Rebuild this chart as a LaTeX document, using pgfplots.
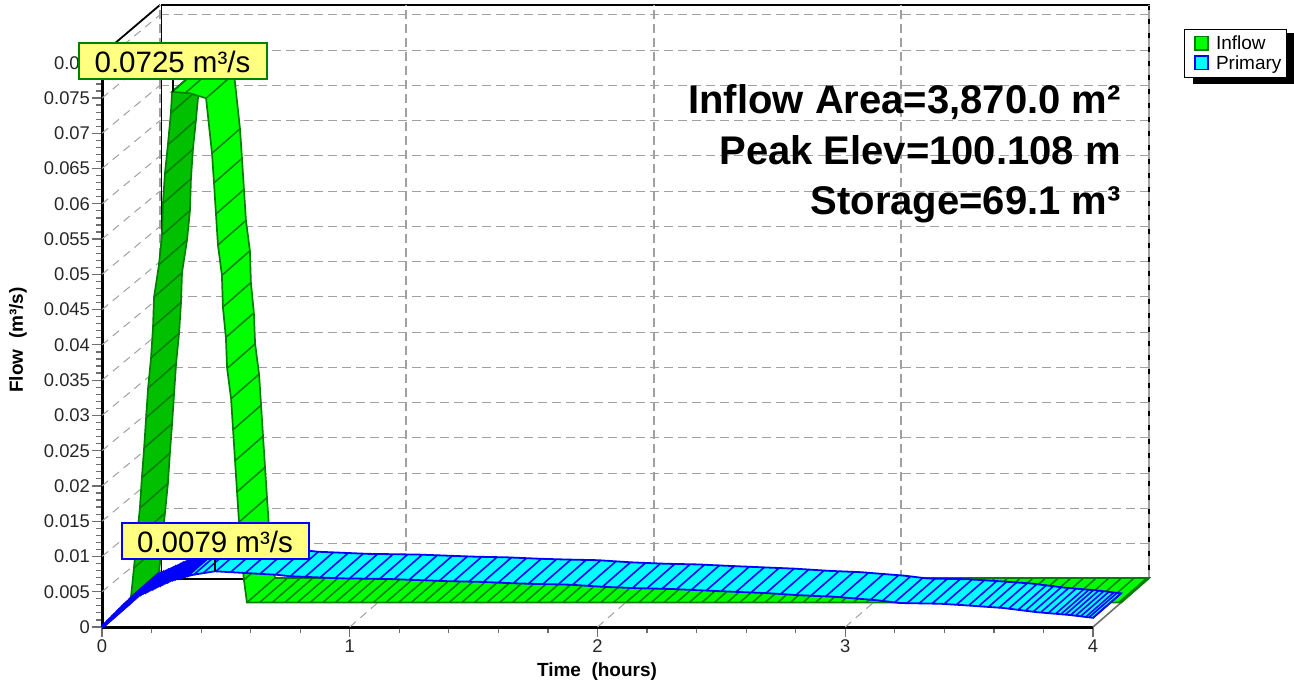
\documentclass[border=0pt]{standalone}
\usepackage{pgfplots}
\usepackage{pgfplotstable}
\usepackage{fontspec}
\setmainfont{Liberation Sans}
\pgfplotsset{compat=1.18}
\usepgfplotslibrary{fillbetween}
\definecolor{gridg}{RGB}{160,160,160}
\definecolor{tickg}{RGB}{110,110,110}
\definecolor{inl}{RGB}{0,255,0}
\definecolor{ind}{RGB}{0,192,0}
\definecolor{inedge}{RGB}{0,128,0}
\definecolor{pri}{RGB}{0,255,255}
\definecolor{priedge}{RGB}{0,0,255}
\definecolor{labelfill}{RGB}{255,255,128}
\newcommand{\fs}[1]{\fontsize{#1}{#1}\selectfont}

% Inflow: rising limb
\pgfplotstableread{
t q
0 0
.004 .0008
.016 .0049
.028 .0092
.040 .0134
.048 .0177
.057 .0219
.065 .0262
.073 .0304
.085 .0347
.093 .0391
.097 .0433
.117 .0479
.129 .0521
.133 .0566
.141 .0608
.153 .0649
.165 .0694
.170 .0724
}\inrise
% Inflow: crest and falling limb, then base
\pgfplotstableread{
t q
.170 .0724
.242 .0722
.307 .0715
.331 .0637
.339 .0595
.347 .0551
.355 .0507
.371 .0464
.375 .0419
.387 .0376
.392 .0332
.408 .0289
.416 .0245
.424 .0201
.432 .0157
.440 .0114
.448 .0072
.460 .0032
.472 0
4 0
}\infall
% Primary outline
\pgfplotstableread{
t q
0 0
.121 .0041
.222 .0057
.287 .0067
.367 .0074
.456 .0079
.706 .0074
.759 .0072
.961 .0069
1.162 .0068
1.393 .0065
1.526 .0064
1.659 .0062
1.756 .0061
1.889 .0060
2.022 .0057
2.159 .0055
2.293 .0054
2.414 .0052
2.547 .0050
2.684 .0048
2.817 .0045
2.951 .0043
3.128 .0038
3.221 .0034
3.382 .0033
3.475 .0031
3.637 .0027
3.774 .0021
3.907 .0017
4.000 .0013
}\primary
% Primary: early limb hatches
\pgfplotstableread{
t q
0 0
.01 .0003
.02 .0007
.03 .0010
.04 .0014
.05 .0017
.06 .0021
.07 .0024
.08 .0028
.09 .0031
.10 .0034
.11 .0038
.12 .0041
.13 .0042
.14 .0044
.15 .0045
.16 .0047
.17 .0048
.18 .0050
.19 .0052
.20 .0053
.21 .0055
.22 .0057
.23 .0058
.24 .0060
.25 .0062
.26 .0063
.27 .0065
.28 .0066
.29 .0067
.30 .0068
.31 .0069
.32 .0070
.33 .0071
.34 .0072
}\pririse
% Primary hatch positions
\pgfplotstableread{
t q
.37 .0074
.41 .0077
.46 .0079
.52 .0078
.58 .0077
.64 .0076
.70 .0074
.76 .0072
.82 .0071
.88 .0070
.94 .0069
1.00 .0069
1.06 .0068
1.12 .0068
1.18 .0068
1.24 .0067
1.30 .0066
1.36 .0065
1.42 .0065
1.48 .0064
1.54 .0064
1.60 .0063
1.66 .0062
1.72 .0061
1.78 .0061
1.84 .0060
1.90 .0060
1.96 .0058
2.02 .0057
2.08 .0056
2.14 .0055
2.20 .0055
2.26 .0054
2.32 .0054
2.38 .0053
2.44 .0052
2.50 .0051
2.56 .0050
2.62 .0049
2.68 .0048
2.74 .0047
2.80 .0045
2.86 .0044
2.92 .0043
2.98 .0042
3.04 .0040
3.10 .0038
3.15 .0037
3.20 .0035
3.25 .0034
3.30 .0034
3.35 .0033
3.40 .0033
3.45 .0032
3.50 .0031
3.54 .0030
3.58 .0029
3.62 .0027
3.66 .0026
3.70 .0025
3.73 .0024
3.76 .0022
3.79 .0021
3.82 .0020
3.85 .0019
3.87 .0018
3.89 .0018
3.91 .0017
3.93 .0016
3.95 .0015
3.97 .0014
3.985 .0014
4.00 .0013
}\prihatch
% Inflow hatch positions on the crest and the falling limb
\pgfplotstableread{
t q
.170 .0724
.222 .0722
.307 .0715
.331 .0637
.339 .0595
.347 .0551
.355 .0507
.371 .0464
.375 .0419
.387 .0376
.392 .0332
.408 .0289
.416 .0245
.424 .0201
.432 .0157
.440 .0114
.448 .0072
.460 .0032
.472 0
.523 0
.574 0
.625 0
.676 0
.727 0
.778 0
.829 0
.880 0
.931 0
.982 0
1.033 0
1.084 0
1.135 0
1.186 0
1.237 0
1.288 0
1.339 0
1.390 0
1.441 0
1.492 0
1.543 0
1.594 0
1.645 0
1.696 0
1.747 0
1.798 0
1.849 0
1.900 0
1.951 0
2.002 0
2.053 0
2.104 0
2.155 0
2.206 0
2.257 0
2.308 0
2.359 0
2.410 0
2.461 0
2.512 0
2.563 0
2.614 0
2.665 0
2.716 0
2.767 0
2.818 0
2.869 0
2.920 0
2.971 0
3.022 0
3.073 0
3.124 0
3.175 0
3.226 0
3.277 0
3.328 0
3.379 0
3.430 0
3.481 0
3.532 0
3.583 0
3.634 0
3.685 0
3.736 0
3.787 0
3.838 0
3.889 0
3.940 0
3.991 0
}\inhatch

\begin{document}
\begin{tikzpicture}
\path (0pt,0pt) rectangle (1294pt,686pt);
\fill[black] (1193pt,602pt) rectangle (1294pt,653pt);
\begin{axis}[
  at={(102pt,59pt)},anchor=south west,
  scale only axis,width=991pt,height=572.7pt,
  xmin=0,xmax=4,ymin=0,ymax=0.0812,
  clip=false,
  axis lines=left,
  axis line style={-,line width=3pt,black},
  xtick={0,1,2,3,4},minor x tick num=4,
  ytick={0,0.005,0.01,0.015,0.02,0.025,0.03,0.035,0.04,0.045,0.05,0.055,0.06,0.065,0.07,0.075,0.08},
  minor y tick num=4,
  tick align=outside,
  major tick length=10pt,minor tick length=6pt,
  tick style={tickg,line width=1.2pt},
  scaled y ticks=false,
  tick label style={font=\fs{18.4},/pgf/number format/assume math mode=true,text=black!85},
  yticklabel style={/pgf/number format/.cd,fixed,precision=3,assume math mode=true,/tikz/xshift=1.5pt},
  xticklabel style={yshift=1pt},
  xlabel={\fs{19}\bfseries Time\ \ (hours)},
  xlabel style={at={(axis cs:1.998,0)},anchor=center,yshift=-45pt},
  ylabel={\fs{19}\bfseries Flow\ \ (m³/s)},
  ylabel style={at={(axis cs:-0.339,0.0407)},anchor=center},
  legend style={at={(axis cs:4.3674,0.08479)},anchor=north west,draw=black,line width=1pt,
    font=\fs{19},inner xsep=1.5pt,inner ysep=4pt,row sep=-1pt,
    nodes={inner xsep=4pt,inner ysep=2.5pt},
    cells={anchor=west}},
  legend cell align=left,
  legend image code/.code={\draw[#1,line width=1.3pt] (9pt,-6.5pt) rectangle (22pt,7pt);\path[draw=none,fill=none] (0pt,0pt)--(26pt,0pt);},
  dpt/.style={x filter/.expression={x+#1*0.113},y filter/.expression={y+#1*0.00347}},
  gridh/.style={forget plot,gridg,line width=1.1pt,dash pattern=on 9pt off 5pt},
  gridd/.style={forget plot,gridg,line width=1pt,dash pattern=on 8pt off 6pt},
]
% wall and floor grid
\pgfplotsinvokeforeach{.0118,.0168,.0218,.0269,.0318,.0368,.0418,.0468,.0518,.0568,.0618,.0668,.0718,.0768,.0818,.0868}{
  \addplot[gridh] coordinates {(.2341,#1)(4.226,#1)};
}
\addplot[forget plot,black,line width=1.8pt] coordinates {(.2402,.0068)(.2402,.0882)(4.226,.0882)(4.226,.0068)};
\addplot[forget plot,black,line width=1.8pt] coordinates {(.2341,.0068)(4.226,.0068)};
\addplot[forget plot,black,line width=1.8pt] coordinates {(0,.0812)(.2341,.0882)};
\pgfplotsinvokeforeach{.2341,1.2271,2.2280,3.2250,4.2260}{
  \addplot[gridh] coordinates {(#1,.0068)(#1,.0882)};
}
\pgfplotsinvokeforeach{.005,.010,.015,.020,.025,.030,.035,.040,.045,.050,.055,.060,.065,.070,.075,.080}{
  \addplot[gridd] coordinates {(0,#1)(.2341,#1+.0068)};
}
\addplot[gridd] coordinates {(1,0)(1.226,.0069)};
\addplot[gridd] coordinates {(2,0)(2.226,.0069)};
\addplot[gridd] coordinates {(3,0)(3.226,.0069)};
\addplot[forget plot,tickg,line width=1.6pt] coordinates {(4,0)(4.226,.0069)};
\addplot[forget plot,tickg,line width=1.6pt] coordinates {(0,0)(.2341,.0068)};

% Inflow ribbon
\addplot[forget plot,draw=none,name path=ra,dpt=1] table[x=t,y=q] {\inrise};
\addplot[forget plot,draw=none,name path=rb,dpt=2] table[x=t,y=q] {\inrise};
\addplot[forget plot,fill=ind,draw=inedge,line width=1.7pt] fill between[of=ra and rb,on layer=main];
\addplot[forget plot,quiver={u=.113,v=.00347},inedge,line width=1.6pt,dpt=1] table[x=t,y=q] {\inrise};
\addplot[forget plot,draw=none,name path=fa,dpt=1] table[x=t,y=q] {\infall};
\addplot[forget plot,draw=none,name path=fb,dpt=2] table[x=t,y=q] {\infall};
\addplot[forget plot,fill=inl,draw=inedge,line width=1.7pt] fill between[of=fa and fb,on layer=main];
\addplot[forget plot,quiver={u=.113,v=.00347},inedge,line width=1.5pt,dpt=1] table[x=t,y=q] {\inhatch};
\addplot[forget plot,black,line width=1.6pt] coordinates {(.2866,.0759)(.2866,.0776)};

% Primary ribbon
\addplot[forget plot,draw=none,name path=pa] table[x=t,y=q] {\primary};
\addplot[forget plot,draw=none,name path=pb,dpt=1] table[x=t,y=q] {\primary};
\addplot[forget plot,fill=pri,draw=priedge,line width=1.8pt] fill between[of=pa and pb,on layer=main];
\addplot[forget plot,quiver={u=.113,v=.00347},priedge,line width=3.5pt] table[x=t,y=q] {\pririse};
\addplot[forget plot,quiver={u=.113,v=.00347},priedge,line width=1.6pt] table[x=t,y=q] {\prihatch};
\addplot[forget plot,black,line width=1.6pt] coordinates {(.456,.0079)(.456,.0095)};

\addlegendimage{fill=inl,draw=inedge}
\addlegendentry{Inflow}
\addlegendimage{fill=pri,draw=priedge}
\addlegendentry{Primary}
\end{axis}
\node[anchor=base east,inner sep=0pt,font=\fs{40}\bfseries,text=black] at (1121pt,572.5pt) {Inflow Area=3,870.0 m²};
\node[anchor=base east,inner sep=0pt,font=\fs{40}\bfseries,text=black] at (1121pt,521pt) {Peak Elev=100.108 m};
\node[anchor=base east,inner sep=0pt,font=\fs{40}\bfseries,text=black] at (1121pt,471pt) {Storage=69.1 m³};
\node[draw=inedge,fill=labelfill,line width=2pt,font=\fs{29.5},minimum width=188pt,minimum height=36pt,inner sep=0pt] at (172.5pt,624.5pt) {0.0725 m³/s};
\node[draw=priedge,fill=labelfill,line width=2pt,font=\fs{29.5},minimum width=187pt,minimum height=36pt,inner sep=0pt] at (215pt,144.5pt) {0.0079 m³/s};
\end{tikzpicture}
\end{document}
